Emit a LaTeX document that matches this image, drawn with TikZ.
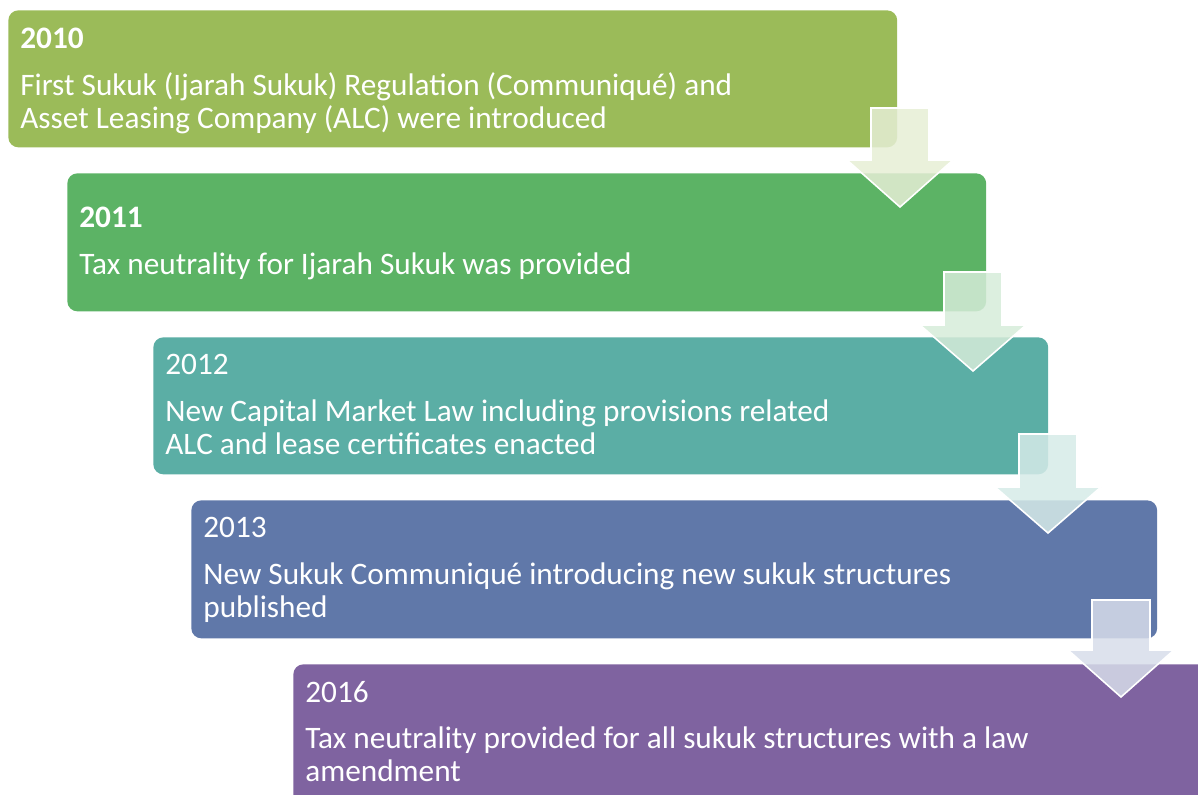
\documentclass[tikz,border=0pt]{standalone}
\usepackage{fontspec}
\setmainfont{Carlito}
\usetikzlibrary{positioning}

\definecolor{stageA}{HTML}{9BBB59}
\definecolor{stageB}{HTML}{5CB365}
\definecolor{stageC}{HTML}{5BAEA5}
\definecolor{stageD}{HTML}{6078A9}
\definecolor{stageE}{HTML}{7F63A0}

\tikzset{
  stage/.style={fill=#1, rounded corners=0.2cm, anchor=north west, inner sep=0pt},
  yeartext/.style={anchor=base west, inner sep=0pt, text=white, font=\fontsize{17.8}{19.3}\selectfont},
  bodytext/.style={anchor=base west, inner sep=0pt, text=white, align=left, font=\fontsize{17.8}{19.3}\selectfont},
  blockarrow/.style={fill=#1!25, fill opacity=0.85, draw=white, line width=0.9pt, line join=miter}
}

\begin{document}
\begin{tikzpicture}[x=0.02cm, y=-0.02cm]
   \useasboundingbox (0,0) rectangle (1198,795);

   % stages of the timeline
   \node[stage=stageA, minimum width=17.78cm, minimum height=2.74cm] (b1) at (8,10) {};
   \node[stage=stageB, minimum width=18.38cm, minimum height=2.76cm] (b2) at (67,173) {};
   \node[stage=stageC, minimum width=17.9cm, minimum height=2.74cm] (b3) at (153,337) {};
   \node[stage=stageD, minimum width=19.32cm, minimum height=2.76cm] (b4) at (191,500) {};
   \node[stage=stageE, minimum width=18.6cm, minimum height=2.9cm] (b5) at (293,664) {};

   % years and texts (base of a text block = its last line)
   \node[yeartext, font=\fontsize{17.8}{19.3}\selectfont\bfseries] (y1) at ([xshift=0.24cm, yshift=-0.78cm]b1.north west) {2010};
   \node[bodytext] (t1) at ([xshift=0.24cm, yshift=-2.38cm]b1.north west)
     {First Sukuk (Ijarah Sukuk) Regulation (Communiqué) and\\Asset Leasing Company (ALC) were introduced};

   \node[yeartext, font=\fontsize{17.8}{19.3}\selectfont\bfseries] (y2) at ([xshift=0.24cm, yshift=-1.1cm]b2.north west) {2011};
   \node[bodytext] (t2) at ([xshift=0.24cm, yshift=-2.04cm]b2.north west)
     {Tax neutrality for Ijarah Sukuk was provided};

   \node[yeartext] (y3) at ([xshift=0.24cm, yshift=-0.76cm]b3.north west) {2012};
   \node[bodytext] (t3) at ([xshift=0.24cm, yshift=-2.36cm]b3.north west)
     {New Capital Market Law including provisions related\\ALC and lease certificates enacted};

   \node[yeartext] (y4) at ([xshift=0.24cm, yshift=-0.76cm]b4.north west) {2013};
   \node[bodytext] (t4) at ([xshift=0.24cm, yshift=-2.36cm]b4.north west)
     {New Sukuk Communiqué introducing new sukuk structures\\published};

   \node[yeartext] (y5) at ([xshift=0.24cm, yshift=-0.76cm]b5.north west) {2016};
   \node[bodytext] (t5) at ([xshift=0.24cm, yshift=-2.36cm]b5.north west)
     {Tax neutrality provided for all sukuk structures with a law\\amendment};

   % arrows between the stages: centre x, top, shoulder, tip
   \foreach \c/\x/\t/\s/\p [count=\i] in {stageA/900/108/160/207, stageB/973/272/325/371,
                                       stageC/1048/434/487/533, stageD/1121/600/650/697}
   {
     \coordinate (a\i) at (\x,\p);
     \path[blockarrow=\c] (\x-29,\t) -- (\x+29,\t) -- (\x+29,\s) -- (\x+53,\s)
       -- (a\i) -- (\x-53,\s) -- (\x-29,\s) -- cycle;
   }
\end{tikzpicture}
\end{document}
